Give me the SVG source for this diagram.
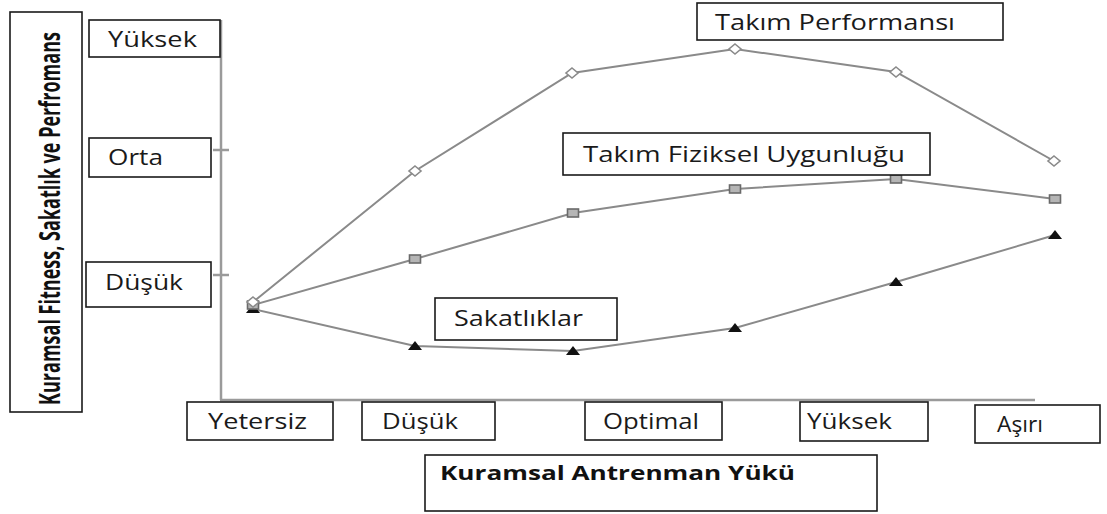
<svg xmlns="http://www.w3.org/2000/svg" width="1107" height="514" viewBox="0 0 1107 514">
<style>
.box{fill:#fff;stroke:#1a1a1a;stroke-width:1.6}
.t{font-family:"Open Sans","Liberation Sans",sans-serif;font-size:21px;fill:#1a1a1a}
.tb{font-family:"Open Sans","Liberation Sans",sans-serif;font-size:20px;font-weight:bold;fill:#111}
.ty{font-family:"Open Sans","Liberation Sans",sans-serif;font-size:29px;font-weight:bold;fill:#111}
.axis{stroke:#9a9a9a;stroke-width:2.5;fill:none}
.series{stroke:#8a8a8a;stroke-width:2;fill:none}
.dia{fill:#fff;stroke:#8a8a8a;stroke-width:1.6}
.sq{fill:#b5b5b5;stroke:#6a6a6a;stroke-width:1.6}
.tri{fill:#111;stroke:none}
</style>
<defs>
<polygon id="diamond" class="dia" points="0,-5 6,0 0,5 -6,0"/>
<rect id="square" class="sq" x="-5.5" y="-4" width="11" height="8"/>
<polygon id="triangle" class="tri" points="0,-5 7,4 -7,4"/>
</defs>
<rect width="1107" height="514" fill="#fff"/>

<g id="axes">
<line class="axis" x1="221" y1="20" x2="221" y2="400"/>
<line class="axis" x1="220" y1="400" x2="1035" y2="400"/>
<line class="axis" x1="213" y1="150" x2="229" y2="150" stroke-width="1.5"/>
<line class="axis" x1="213" y1="275" x2="229" y2="275" stroke-width="1.5"/>
</g>

<g id="connectors">
<polyline id="perf-line" class="series" points="253,302 415,171 572,73 735,49 896,72 1054,161"/>
<polyline id="fit-line" class="series" points="253,305 415,259 573,213 735,189 896,179 1055,199"/>
<polyline id="inj-line" class="series" points="253,309 415,346 573,351 735,328 896,282 1055,235"/>
</g>

<g id="markers">
<use href="#triangle" x="253" y="309"/><use href="#triangle" x="415" y="346"/><use href="#triangle" x="573" y="351"/><use href="#triangle" x="735" y="328"/><use href="#triangle" x="896" y="282"/><use href="#triangle" x="1055" y="235"/>
<use href="#square" x="253" y="305"/><use href="#square" x="415" y="259"/><use href="#square" x="573" y="213"/><use href="#square" x="735" y="189"/><use href="#square" x="896" y="179"/><use href="#square" x="1055" y="199"/>
<use href="#diamond" x="253" y="302"/><use href="#diamond" x="415" y="171"/><use href="#diamond" x="572" y="73"/><use href="#diamond" x="735" y="49"/><use href="#diamond" x="896" y="72"/><use href="#diamond" x="1054" y="161"/>
</g>

<g id="y-title">
<rect class="box" x="10" y="12" width="72" height="400"/>
<text class="ty" transform="translate(60,405) rotate(-90)" textLength="373" lengthAdjust="spacingAndGlyphs">Kuramsal Fitness, Sakatlık ve Perfromans</text>
</g>

<g id="y-yuksek"><rect class="box" x="89" y="20" width="131" height="37"/><text class="t" x="108" y="47" textLength="89" lengthAdjust="spacingAndGlyphs">Yüksek</text></g>
<g id="y-orta"><rect class="box" x="89" y="138" width="122" height="39"/><text class="t" x="108" y="165" textLength="55" lengthAdjust="spacingAndGlyphs">Orta</text></g>
<g id="y-dusuk"><rect class="box" x="86" y="262" width="125" height="45"/><text class="t" x="105" y="290" textLength="78" lengthAdjust="spacingAndGlyphs">Düşük</text></g>

<g id="x-yetersiz"><rect class="box" x="187" y="402" width="146" height="38"/><text class="t" x="208" y="429" textLength="99" lengthAdjust="spacingAndGlyphs">Yetersiz</text></g>
<g id="x-dusuk"><rect class="box" x="362" y="402" width="133" height="38"/><text class="t" x="382" y="429" textLength="76" lengthAdjust="spacingAndGlyphs">Düşük</text></g>
<g id="x-optimal"><rect class="box" x="585" y="402" width="137" height="38"/><text class="t" x="603" y="429" textLength="96" lengthAdjust="spacingAndGlyphs">Optimal</text></g>
<g id="x-yuksek"><rect class="box" x="800" y="402" width="128" height="39"/><text class="t" x="807" y="429" textLength="85" lengthAdjust="spacingAndGlyphs">Yüksek</text></g>
<g id="x-asiri"><rect class="box" x="975" y="405" width="125" height="38"/><text class="t" x="997" y="432" textLength="46" lengthAdjust="spacingAndGlyphs">Aşırı</text></g>

<g id="x-title"><rect class="box" x="425" y="455" width="452" height="56"/><text class="tb" x="440" y="480" textLength="355" lengthAdjust="spacingAndGlyphs">Kuramsal Antrenman Yükü</text></g>

<g id="lbl-perf"><rect class="box" x="697" y="3" width="306" height="37"/><text class="t" x="715" y="30" textLength="240" lengthAdjust="spacingAndGlyphs">Takım Performansı</text></g>
<g id="lbl-fit"><rect class="box" x="563" y="133" width="367" height="42"/><text class="t" x="583" y="162" textLength="322" lengthAdjust="spacingAndGlyphs">Takım Fiziksel Uygunluğu</text></g>
<g id="lbl-inj"><rect class="box" x="435" y="298" width="182" height="42"/><text class="t" x="454" y="326" textLength="129" lengthAdjust="spacingAndGlyphs">Sakatlıklar</text></g>
</svg>
